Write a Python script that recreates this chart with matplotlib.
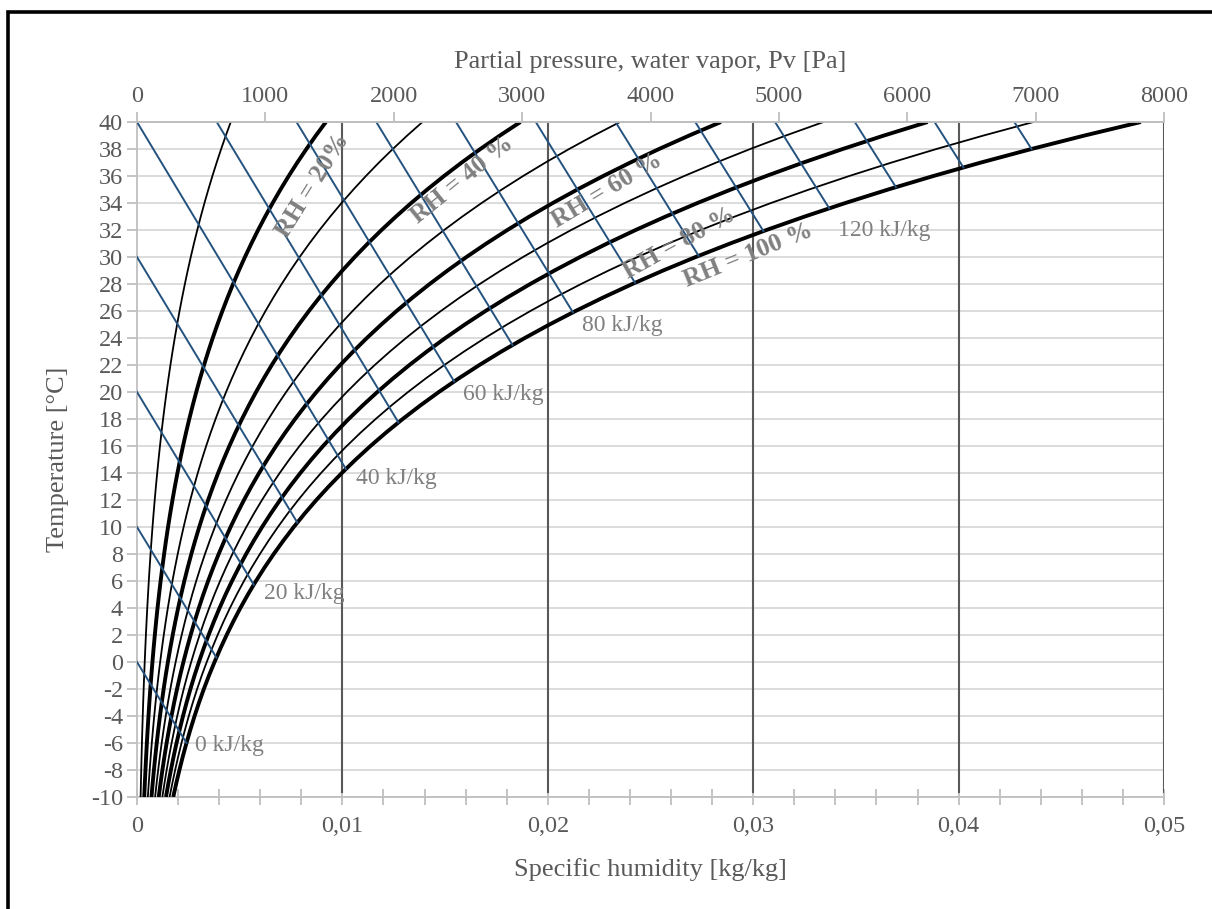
import numpy as np
import matplotlib
matplotlib.use("Agg")
import matplotlib.pyplot as plt
from matplotlib.patches import Rectangle
from matplotlib.ticker import MultipleLocator, FuncFormatter

# Saturation vapour pressure over water [Pa], -10..40 °C in 1 °C steps
temps = np.arange(-10, 41)
p_sat = np.array([
    286.5, 310.0, 335.2, 362.0, 390.8, 421.7, 454.6, 489.7, 527.4, 567.7,
    611.2, 657.1, 705.9, 757.8, 813.1, 872.1, 934.9, 1001.7, 1072.8, 1148.3,
    1228.1, 1312.9, 1402.7, 1497.9, 1598.8, 1705.6, 1818.5, 1938.0, 2064.4, 2197.8,
    2338.8, 2487.7, 2644.7, 2810.4, 2985.0, 3169.0, 3362.9, 3567.0, 3781.8, 4007.8,
    4245.5, 4495.3, 4757.8, 5033.5, 5322.9, 5626.7, 5945.3, 6279.5, 6629.8, 6996.9,
    7381.4])
p_atm = 101325.0

rh_levels = [10, 20, 30, 40, 50, 60, 70, 80, 90, 100]
bold_rh = [20, 40, 60, 80, 100]
enthalpies = [0, 10, 20, 30, 40, 50, 60, 70, 80, 90, 100, 110, 120, 130, 140, 150]
labelled = [0, 20, 40, 60, 80, 120]
label_offsets = [(9, -3), (10, -9), (10, -9), (9, -13), (9, -13), (9, -22)]

rh_text = ["RH = 20%", "RH = 40 %", "RH = 60 %", "RH = 80 %", "RH = 100 %"]
rh_text_pos = [(0.00857, 35.3), (0.01582, 35.7), (0.02288, 34.9), (0.02639, 31.0), (0.02975, 30.1)]
rh_text_rot = [58, 39, 31, 29, 22]

x_ticks = [0, 0.01, 0.02, 0.03, 0.04, 0.05]
pv_ticks = [0, 1000, 2000, 3000, 4000, 5000, 6000, 7000, 8000]

plt.rcParams['font.family'] = ['Liberation Serif', 'DejaVu Serif']
plt.rcParams['axes.unicode_minus'] = False
grey_txt = '#595959'
grey_axis = '#bfbfbf'
blue = '#24527f'


def ratio(pv):
    return 0.622 * pv / (p_atm - pv)


def enthalpy(t, w):
    return 1.0 * t + w * (2501 + 1.86 * t)


fig = plt.figure(figsize=(12.12, 9.09), dpi=100)
ax = fig.add_axes([137 / 1212, 1 - 797 / 909, (1164 - 137) / 1212, (797 - 122) / 909])
ax.set_xlim(0, 0.05)
ax.set_ylim(-10, 40)

# grid
ax.set_yticks(np.arange(-10, 41, 2))
ax.yaxis.grid(True, color='#d9d9d9', lw=1.3, zorder=0)
ax.set_axisbelow(True)
for x in x_ticks[1:]:
    ax.axvline(x, color='#595959', lw=1.5, zorder=1, ymin=0.008)

# relative humidity curves
for rh in rh_levels:
    w = ratio(rh / 100 * p_sat)
    lw = 2.8 if rh in bold_rh else 1.3
    ax.plot(w, temps, color='black', lw=lw, zorder=3, solid_capstyle='butt')

# constant enthalpy lines
w_sat = ratio(p_sat)
h_sat = enthalpy(temps, w_sat)
for h in enthalpies:
    if h <= 40:
        t0, w0 = h / 1.0, 0.0
    else:
        t0 = 40.0
        w0 = (h - t0) / (2501 + 1.86 * t0)
    t1 = np.interp(h, h_sat, temps)
    w1 = (h - t1) / (2501 + 1.86 * t1)
    ax.plot([w0, w1], [t0, t1], color=blue, lw=1.4, zorder=4)
    if h in labelled:
        dx, dy = label_offsets[labelled.index(h)]
        ax.annotate(f"{h} kJ/kg", (w1, t1), xytext=(dx, dy), textcoords='offset pixels',
                    ha='left', va='center', fontsize=17, color='#808080', zorder=5)

for txt, (x, y), rot in zip(rh_text, rh_text_pos, rh_text_rot):
    ax.text(x, y, txt, rotation=rot, rotation_mode='anchor', ha='center', va='center',
            fontsize=18.5, fontweight='bold', color='#808080', zorder=5)

# bottom / left axes
ax.set_xticks(x_ticks)
ax.xaxis.set_minor_locator(MultipleLocator(0.002))
ax.xaxis.set_major_formatter(FuncFormatter(lambda v, p: ('%g' % v).replace('.', ',')))
ax.tick_params(axis='x', which='both', direction='inout', length=11, width=1.3,
               color=grey_axis, labelsize=17.5, labelcolor=grey_txt, pad=8)
ax.tick_params(axis='y', direction='out', length=7, width=1.3, color=grey_axis,
               labelsize=17.5, labelcolor=grey_txt, pad=3)
for s in ['left', 'bottom', 'top']:
    ax.spines[s].set_color(grey_axis)
    ax.spines[s].set_linewidth(1.3)
ax.spines['right'].set_visible(False)

ax.set_xlabel("Specific humidity [kg/kg]", fontsize=19, color=grey_txt, va='center')
ax.xaxis.set_label_coords(0.5, -0.108)
ax.set_ylabel("Temperature [°C]", fontsize=19, color=grey_txt, va='center')
ax.yaxis.set_label_coords(-0.077, 0.5)

# top axis: partial pressure of water vapour
ax2 = ax.twiny()
ax2.set_xlim(0, 8000)
ax2.set_xticks(pv_ticks)
ax2.tick_params(axis='x', direction='out', length=7, width=1.3, color=grey_axis,
                labelsize=17.5, labelcolor=grey_txt, pad=4)
for s in ['left', 'bottom', 'right']:
    ax2.spines[s].set_visible(False)
ax2.spines['top'].set_color(grey_axis)
ax2.spines['top'].set_linewidth(1.3)
ax2.set_xlabel("Partial pressure, water vapor, Pv [Pa]", fontsize=19, color=grey_txt, va='center')
ax2.xaxis.set_label_coords(0.5, 1.089)

# chart frame
fig.add_artist(Rectangle((8 / 1212, -0.05), 1.1, 1.05 - 11.5 / 909, transform=fig.transFigure,
                         fill=False, ec='black', lw=2.6, clip_on=False))

fig.savefig("out.png", dpi=100)
